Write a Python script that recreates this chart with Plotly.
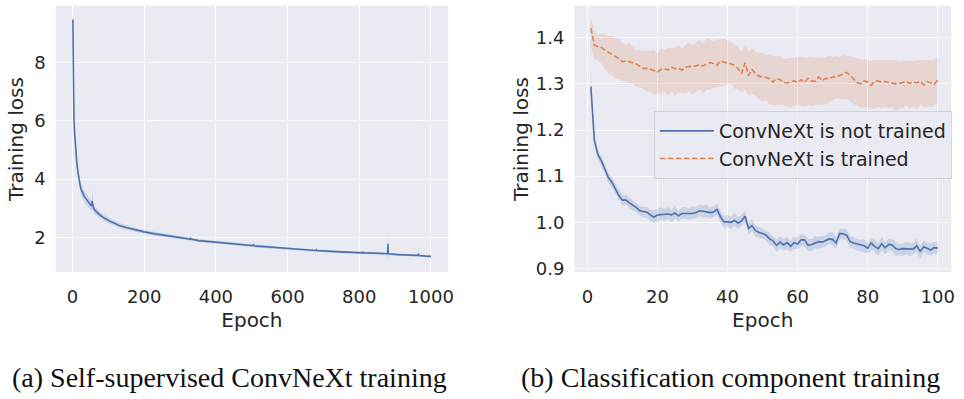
import plotly.graph_objects as go

# ---------------- Data: (a) self-supervised ConvNeXt training ----------------
left_epochs = [1, 2, 4, 6, 8, 10, 12, 15, 18, 21, 24, 28, 33, 38, 43, 48, 52, 54, 55, 56,
               58, 61, 66, 75, 88, 103, 118, 130, 150, 167, 185, 200, 230, 260, 290, 306,
               329, 330, 331, 352, 375, 400, 445, 475, 500, 504, 505, 506, 530, 560, 600,
               640, 679, 680, 681, 720, 760, 800, 809, 810, 811, 840, 860, 879, 880, 881,
               907, 930, 964, 965, 966, 985, 1000]
left_loss = [9.46, 6.88, 6.05, 5.55, 5.15, 4.85, 4.57, 4.25, 3.98, 3.80, 3.65, 3.52, 3.40,
             3.32, 3.22, 3.15, 3.10, 3.08, 3.25, 3.05, 3.02, 2.95, 2.88, 2.78, 2.67, 2.56,
             2.48, 2.41, 2.34, 2.28, 2.23, 2.19, 2.12, 2.06, 2.00, 1.97, 1.94, 1.96, 1.94,
             1.89, 1.86, 1.83, 1.78, 1.75, 1.72, 1.72, 1.76, 1.71, 1.69, 1.65, 1.61, 1.58,
             1.55, 1.57, 1.55, 1.52, 1.50, 1.47, 1.47, 1.51, 1.47, 1.46, 1.45, 1.44, 1.78,
             1.44, 1.41, 1.40, 1.38, 1.44, 1.38, 1.36, 1.35]
left_band_up = [0.05, 0.10, 0.12, 0.13, 0.14, 0.15, 0.16, 0.17, 0.18, 0.18, 0.18, 0.18, 0.18,
                0.18, 0.17, 0.17, 0.16, 0.16, 0.45, 0.15, 0.14, 0.13, 0.12, 0.11, 0.10, 0.09,
                0.08, 0.08, 0.07, 0.07, 0.06, 0.06, 0.06, 0.06, 0.05, 0.05, 0.05, 0.10, 0.05,
                0.05, 0.05, 0.05, 0.05, 0.05, 0.05, 0.05, 0.20, 0.05, 0.05, 0.05, 0.04, 0.04,
                0.04, 0.12, 0.04, 0.04, 0.04, 0.04, 0.04, 0.06, 0.04, 0.04, 0.04, 0.04, 0.58,
                0.04, 0.04, 0.04, 0.04, 0.22, 0.04, 0.04, 0.04]
left_band_dn = [0.05, 0.10, 0.12, 0.13, 0.14, 0.15, 0.16, 0.17, 0.18, 0.19, 0.19, 0.19, 0.19,
                0.19, 0.19, 0.18, 0.18, 0.17, 0.20, 0.16, 0.15, 0.14, 0.13, 0.11, 0.10, 0.09,
                0.08, 0.08, 0.07, 0.07, 0.06, 0.06, 0.06, 0.06, 0.05, 0.05, 0.05, 0.05, 0.05,
                0.05, 0.05, 0.05, 0.05, 0.05, 0.05, 0.05, 0.07, 0.05, 0.05, 0.05, 0.04, 0.04,
                0.04, 0.04, 0.04, 0.04, 0.04, 0.04, 0.04, 0.04, 0.04, 0.04, 0.04, 0.04, 0.56,
                0.04, 0.04, 0.04, 0.04, 0.05, 0.04, 0.04, 0.04]

# ---------------- Data: (b) classification component training ----------------
right_epochs = list(range(1, 101))
not_trained = [1.294, 1.177, 1.147, 1.133, 1.115, 1.097, 1.087, 1.072, 1.058, 1.048,
               1.048, 1.042, 1.037, 1.032, 1.025, 1.023, 1.022, 1.016, 1.011, 1.016,
               1.017, 1.017, 1.018, 1.016, 1.020, 1.014, 1.019, 1.019, 1.019, 1.019,
               1.021, 1.025, 1.024, 1.023, 1.021, 1.022, 1.028, 1.012, 1.001, 1.001,
               1.000, 1.004, 0.998, 1.003, 1.013, 0.987, 0.993, 0.982, 0.978, 0.976,
               0.972, 0.964, 0.960, 0.950, 0.957, 0.951, 0.956, 0.948, 0.956, 0.953,
               0.962, 0.962, 0.950, 0.952, 0.955, 0.958, 0.957, 0.960, 0.964, 0.963,
               0.955, 0.976, 0.975, 0.972, 0.958, 0.955, 0.953, 0.950, 0.949, 0.944,
               0.955, 0.948, 0.943, 0.953, 0.945, 0.952, 0.951, 0.943, 0.941, 0.943,
               0.943, 0.943, 0.942, 0.949, 0.937, 0.947, 0.943, 0.940, 0.945, 0.944]
not_trained_up = [0.024, 0.012, 0.010, 0.010, 0.010, 0.011, 0.010, 0.011, 0.012, 0.010,
                  0.012, 0.010, 0.011, 0.010, 0.009, 0.010, 0.011, 0.012, 0.015, 0.013,
                  0.016, 0.012, 0.015, 0.010, 0.016, 0.011, 0.013, 0.014, 0.011, 0.016,
                  0.012, 0.014, 0.012, 0.015, 0.011, 0.012, 0.012, 0.014, 0.012, 0.015,
                  0.012, 0.016, 0.014, 0.013, 0.012, 0.012, 0.015, 0.011, 0.012, 0.010,
                  0.010, 0.012, 0.011, 0.013, 0.012, 0.014, 0.011, 0.013, 0.012, 0.014,
                  0.012, 0.011, 0.014, 0.012, 0.015, 0.011, 0.013, 0.012, 0.014, 0.016,
                  0.012, 0.010, 0.011, 0.013, 0.011, 0.012, 0.010, 0.012, 0.014, 0.012,
                  0.011, 0.014, 0.012, 0.015, 0.011, 0.013, 0.012, 0.014, 0.012, 0.011,
                  0.015, 0.012, 0.013, 0.016, 0.012, 0.014, 0.012, 0.015, 0.013, 0.013]
not_trained_dn = [0.022, 0.012, 0.011, 0.010, 0.011, 0.012, 0.011, 0.010, 0.011, 0.012,
                  0.010, 0.011, 0.012, 0.010, 0.011, 0.012, 0.012, 0.013, 0.012, 0.015,
                  0.012, 0.014, 0.011, 0.016, 0.012, 0.013, 0.011, 0.012, 0.015, 0.012,
                  0.013, 0.011, 0.014, 0.012, 0.013, 0.011, 0.012, 0.014, 0.013, 0.012,
                  0.015, 0.012, 0.013, 0.011, 0.014, 0.012, 0.013, 0.014, 0.012, 0.011,
                  0.012, 0.013, 0.012, 0.014, 0.013, 0.012, 0.015, 0.012, 0.014, 0.011,
                  0.013, 0.016, 0.012, 0.014, 0.012, 0.015, 0.012, 0.013, 0.011, 0.014,
                  0.012, 0.013, 0.012, 0.011, 0.013, 0.012, 0.014, 0.013, 0.015, 0.012,
                  0.014, 0.012, 0.016, 0.013, 0.015, 0.012, 0.014, 0.016, 0.012, 0.015,
                  0.013, 0.016, 0.012, 0.014, 0.015, 0.012, 0.014, 0.011, 0.013, 0.012]
trained = [1.421, 1.384, 1.381, 1.379, 1.373, 1.368, 1.364, 1.360, 1.355, 1.348,
           1.350, 1.348, 1.345, 1.343, 1.338, 1.333, 1.334, 1.331, 1.329, 1.326,
           1.331, 1.333, 1.330, 1.336, 1.333, 1.334, 1.330, 1.336, 1.338, 1.337,
           1.339, 1.341, 1.339, 1.343, 1.346, 1.344, 1.340, 1.350, 1.347, 1.345,
           1.343, 1.340, 1.333, 1.322, 1.346, 1.318, 1.331, 1.322, 1.316, 1.316,
           1.314, 1.311, 1.304, 1.312, 1.309, 1.303, 1.302, 1.304, 1.307, 1.303,
           1.309, 1.303, 1.312, 1.306, 1.306, 1.315, 1.307, 1.312, 1.311, 1.315,
           1.315, 1.318, 1.322, 1.325, 1.318, 1.310, 1.303, 1.300, 1.307, 1.304,
           1.297, 1.306, 1.306, 1.304, 1.305, 1.303, 1.301, 1.300, 1.301, 1.303,
           1.305, 1.301, 1.305, 1.302, 1.306, 1.298, 1.305, 1.302, 1.299, 1.308]
trained_up = [0.025, 0.030, 0.025, 0.030, 0.035, 0.035, 0.040, 0.040, 0.045, 0.040,
              0.035, 0.040, 0.035, 0.030, 0.035, 0.040, 0.038, 0.040, 0.045, 0.040,
              0.045, 0.040, 0.048, 0.042, 0.045, 0.050, 0.046, 0.048, 0.052, 0.046,
              0.050, 0.054, 0.048, 0.056, 0.050, 0.048, 0.056, 0.046, 0.052, 0.050,
              0.047, 0.044, 0.046, 0.048, 0.040, 0.050, 0.046, 0.048, 0.050, 0.052,
              0.049, 0.052, 0.056, 0.048, 0.052, 0.050, 0.054, 0.052, 0.050, 0.054,
              0.050, 0.054, 0.046, 0.052, 0.050, 0.044, 0.050, 0.046, 0.050, 0.044,
              0.046, 0.040, 0.040, 0.036, 0.042, 0.048, 0.052, 0.054, 0.046, 0.048,
              0.052, 0.046, 0.045, 0.048, 0.046, 0.048, 0.050, 0.052, 0.048, 0.046,
              0.045, 0.050, 0.044, 0.050, 0.046, 0.054, 0.046, 0.050, 0.054, 0.052]
trained_dn = [0.040, 0.030, 0.030, 0.035, 0.040, 0.045, 0.045, 0.050, 0.045, 0.040,
              0.045, 0.048, 0.045, 0.050, 0.046, 0.044, 0.050, 0.046, 0.052, 0.048,
              0.054, 0.050, 0.056, 0.052, 0.058, 0.054, 0.050, 0.058, 0.054, 0.060,
              0.056, 0.052, 0.060, 0.056, 0.058, 0.052, 0.048, 0.056, 0.050, 0.046,
              0.044, 0.050, 0.046, 0.040, 0.058, 0.044, 0.052, 0.048, 0.050, 0.054,
              0.050, 0.056, 0.050, 0.058, 0.054, 0.050, 0.052, 0.056, 0.054, 0.050,
              0.056, 0.052, 0.058, 0.054, 0.052, 0.060, 0.054, 0.056, 0.052, 0.050,
              0.046, 0.050, 0.054, 0.058, 0.056, 0.054, 0.050, 0.052, 0.058, 0.054,
              0.050, 0.060, 0.056, 0.058, 0.054, 0.056, 0.052, 0.058, 0.054, 0.056,
              0.052, 0.056, 0.054, 0.058, 0.052, 0.048, 0.054, 0.052, 0.048, 0.050]

x_ticks_left = [0, 200, 400, 600, 800, 1000]
y_ticks_left = [2, 4, 6, 8]
x_ticks_right = [0, 20, 40, 60, 80, 100]
y_ticks_right = [0.9, 1.0, 1.1, 1.2, 1.3, 1.4]
caption_a = "(a) Self-supervised ConvNeXt training"
caption_b = "(b) Classification component training"
legend_names = ["ConvNeXt is not trained", "ConvNeXt is trained"]

BLUE = "#4C72B0"
ORANGE = "#DD8452"
BLUE_FILL = "rgba(76,114,176,0.2)"
ORANGE_FILL = "rgba(221,132,82,0.2)"
TXT = "#262626"
W, H = 964, 399

fig = go.Figure()


def add_band(x, y, up, dn, fill, xa, ya):
    lo = [v - d for v, d in zip(y, dn)]
    hi = [v + u for v, u in zip(y, up)]
    fig.add_trace(go.Scatter(x=x, y=lo, mode="lines", line=dict(width=0, color=fill),
                             showlegend=False, hoverinfo="skip", xaxis=xa, yaxis=ya))
    fig.add_trace(go.Scatter(x=x, y=hi, mode="lines", line=dict(width=0, color=fill),
                             fill="tonexty", fillcolor=fill, showlegend=False,
                             hoverinfo="skip", xaxis=xa, yaxis=ya))


# left panel
add_band(left_epochs, left_loss, left_band_up, left_band_dn, BLUE_FILL, "x", "y")
fig.add_trace(go.Scatter(x=left_epochs, y=left_loss, mode="lines",
                         line=dict(color=BLUE, width=1.6), showlegend=False,
                         xaxis="x", yaxis="y"))

# right panel
add_band(right_epochs, not_trained, not_trained_up, not_trained_dn, BLUE_FILL, "x2", "y2")
add_band(right_epochs, trained, trained_up, trained_dn, ORANGE_FILL, "x2", "y2")
fig.add_trace(go.Scatter(x=right_epochs, y=not_trained, mode="lines", name=legend_names[0],
                         line=dict(color=BLUE, width=1.6), xaxis="x2", yaxis="y2",
                         legendgroup="a"))
fig.add_trace(go.Scatter(x=right_epochs, y=trained, mode="lines", name=legend_names[1],
                         line=dict(color=ORANGE, width=1.6, dash="5.5px,2.5px"),
                         xaxis="x2", yaxis="y2", legendgroup="b"))

ydom = [1 - 277 / H, 1 - 6 / H]
axis_common = dict(showgrid=True, gridcolor="white", gridwidth=1.1, zeroline=False,
                   showline=False, ticks="", tickfont=dict(size=18, color=TXT,
                   family="DejaVu Sans"))

fig.update_layout(
    width=W, height=H,
    margin=dict(l=0, r=0, t=0, b=0),
    paper_bgcolor="white",
    plot_bgcolor="#EAEAF2",
    font=dict(family="DejaVu Sans", color=TXT),
    xaxis=dict(domain=[56 / W, 451 / W], range=[-47, 1048], tickvals=x_ticks_left,
               title=dict(text="Epoch", font=dict(size=20, color=TXT), standoff=6),
               anchor="y", ticklabelstandoff=12, **axis_common),
    yaxis=dict(domain=ydom, range=[0.81, 9.93], tickvals=y_ticks_left,
               title=dict(text="Training loss", font=dict(size=20, color=TXT), standoff=5),
               anchor="x", ticklabelstandoff=9, **axis_common),
    xaxis2=dict(domain=[578 / W, 957 / W], range=[-3.7, 103.8], tickvals=x_ticks_right,
                title=dict(text="Epoch", font=dict(size=20, color=TXT), standoff=6),
                anchor="y2", ticklabelstandoff=12, **axis_common),
    yaxis2=dict(domain=ydom, range=[0.892, 1.469], tickvals=y_ticks_right,
                tickformat=".1f",
                title=dict(text="Training loss", font=dict(size=20, color=TXT), standoff=1),
                anchor="x2", ticklabelstandoff=9, **axis_common),
    legend=dict(x=658 / W, y=1 - 113 / H, xanchor="left", yanchor="top",
                bgcolor="rgba(234,234,242,0.8)", bordercolor="rgba(204,204,204,0.8)",
                borderwidth=1, font=dict(size=19, color=TXT, family="DejaVu Sans"),
                tracegroupgap=0, itemwidth=54),
    annotations=[
        dict(text=caption_a, x=231 / W, y=1 - 384 / H, xref="paper", yref="paper",
             showarrow=False, xanchor="center", yanchor="middle",
             font=dict(family="Liberation Serif", size=28, color="#111111")),
        dict(text=caption_b, x=735 / W, y=1 - 384 / H, xref="paper", yref="paper",
             showarrow=False, xanchor="center", yanchor="middle",
             font=dict(family="Liberation Serif", size=28, color="#111111")),
    ],
)

fig.write_html("out.html")
